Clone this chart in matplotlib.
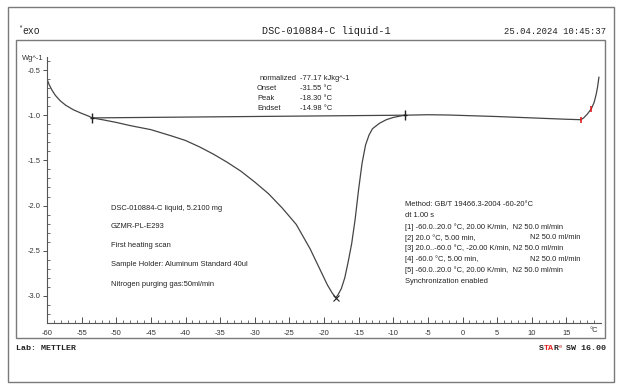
import matplotlib
matplotlib.use("Agg")
import matplotlib.pyplot as plt
from matplotlib.patches import Rectangle

W, H = 628, 391

# ---- data ----
temperature = [-60.0, -59.7, -59.3, -58.8, -58.1, -57.3, -56.2, -55.0, -54.0, -53.5,
               -52.0, -50.0, -48.0, -45.0, -42.0, -40.0, -38.0, -36.0, -34.0, -32.0,
               -30.0, -28.0, -26.0, -24.0, -22.0, -20.5, -19.5, -18.8, -18.3, -18.0,
               -17.5, -17.0, -16.5, -16.0, -15.5, -15.0, -14.5, -14.0, -13.5, -13.0,
               -12.0, -11.0, -10.0, -9.0, -8.3, -5.0, -2.0, 0.0, 5.0, 10.0,
               15.0, 17.1, 17.5, 18.0, 18.6, 19.0, 19.3, 19.5, 19.7]
heat_flow = [-0.60, -0.66, -0.72, -0.78, -0.84, -0.89, -0.94, -0.98, -1.01, -1.03,
             -1.05, -1.08, -1.115, -1.16, -1.23, -1.28, -1.35, -1.43, -1.52, -1.62,
             -1.74, -1.87, -2.03, -2.21, -2.48, -2.72, -2.88, -2.97, -3.02, -2.99,
             -2.92, -2.80, -2.62, -2.42, -2.15, -1.82, -1.53, -1.33, -1.22, -1.15,
             -1.09, -1.05, -1.025, -1.01, -1.00, -0.995, -0.998, -1.003, -1.015, -1.03,
             -1.045, -1.05, -1.03, -0.99, -0.93, -0.86, -0.77, -0.69, -0.58]
baseline_t = [-53.5, -8.3]
baseline_y = [-1.03, -1.00]
limit_t = [-53.5, -8.3]
limit_y = [-1.03, -1.00]
red_t = [17.1, 18.6]
red_y = [-1.05, -0.93]
peak_t = [-18.3]
peak_y = [-3.02]

x_ticks = list(range(-60, 20, 5))
y_ticks = [-0.5, -1.0, -1.5, -2.0, -2.5, -3.0]

result_labels = ["normalized", "Onset", "Peak", "Endset"]
result_values = ["-77.17 kJkg^-1", "-31.55 °C", "-18.30 °C", "-14.98 °C"]
sample_lines = ["DSC-010884-C liquid, 5.2100 mg", "GZMR-PL-E293", "First heating scan",
                "Sample Holder: Aluminum Standard 40ul", "Nitrogen purging gas:50ml/min"]
method_lines = ["Method: GB/T 19466.3-2004 -60-20°C", "dt 1.00 s",
                "[1] -60.0..20.0 °C, 20.00 K/min,  N2 50.0 ml/min",
                "[2] 20.0 °C, 5.00 min,",
                "[3] 20.0..-60.0 °C, -20.00 K/min, N2 50.0 ml/min",
                "[4] -60.0 °C, 5.00 min,",
                "[5] -60.0..20.0 °C, 20.00 K/min,  N2 50.0 ml/min",
                "Synchronization enabled"]

# ---- figure ----
fig = plt.figure(figsize=(W / 100, H / 100), dpi=100)
fig.patch.set_facecolor("white")

def fx(px):
    return px / W

def fy(py):
    return 1 - py / H

frame_col = "#7a7a7a"
fig.patches.append(Rectangle((fx(8), fy(382)), fx(614) - fx(8), fy(7) - fy(382),
                             transform=fig.transFigure, fill=False, ec=frame_col, lw=1.0))
fig.patches.append(Rectangle((fx(16), fy(338)), fx(605) - fx(16), fy(40) - fy(338),
                             transform=fig.transFigure, fill=False, ec=frame_col, lw=1.0))

mono = ["Liberation Mono", "DejaVu Sans Mono"]
fig.text(fx(18), fy(28), "*", fontsize=5, family=mono, ha="left", va="center", color="#222")
fig.text(fx(22), fy(31), "exo", fontsize=7, family=mono, ha="left", va="center", color="#222")
fig.text(fx(326), fy(31), "DSC-010884-C liquid-1", fontsize=7.3, family=mono,
         ha="center", va="center", color="#222")
fig.text(fx(606), fy(31), "25.04.2024 10:45:37", fontsize=6.4, family=mono,
         ha="right", va="center", color="#222")
fig.text(fx(16), fy(349), "Lab: METTLER", fontsize=6.0, family=mono, weight="bold",
         ha="left", va="center", color="#222")

# STARe SW 16.00
fig.text(fx(606), fy(349), "SW 16.00", fontsize=6.0, family=mono, weight="bold",
         ha="right", va="center", color="#222")
fig.text(fx(558.5), fy(346), "e", fontsize=4, family=mono, ha="left", va="center", color="#d03030")
fig.text(fx(558.5), fy(349), "R", fontsize=6.0, family=mono, weight="bold", ha="right", va="center", color="#222")
fig.text(fx(553.5), fy(349), "TA", fontsize=6.0, family=mono, weight="bold", ha="right", va="center", color="#e02020")
fig.text(fx(543.5), fy(349), "S", fontsize=6.0, family=mono, weight="bold", ha="right", va="center", color="#222")

# ---- axes ----
ax_l, ax_r, ax_t, ax_b = 47, 601, 57, 323
ax = fig.add_axes([fx(ax_l), fy(ax_b), fx(ax_r) - fx(ax_l), fy(ax_t) - fy(ax_b)])
ax.set_xlim(-60, 20)
ax.set_ylim(-3.30, -0.356)
for s in ["top", "right"]:
    ax.spines[s].set_visible(False)
for s in ["left", "bottom"]:
    ax.spines[s].set_color("#555")
    ax.spines[s].set_linewidth(0.8)

curve_col = "#454545"
ax.plot(temperature, heat_flow, color=curve_col, lw=0.9, solid_joinstyle="round")
ax.plot(baseline_t, baseline_y, color=curve_col, lw=0.9)
ax.plot(limit_t, limit_y, ls="none", marker="|", ms=7, mew=1.0, color="#222")
ax.plot(limit_t, limit_y, ls="none", marker="_", ms=2.5, mew=1.0, color="#222")
ax.plot(red_t, red_y, ls="none", marker="|", ms=5, mew=1.2, color="#e02020")
ax.plot(peak_t, peak_y, ls="none", marker="x", ms=4, mew=0.8, color="#222")

sans = ["Liberation Sans", "DejaVu Sans"]
fs = 5.4
ax.set_xticks(x_ticks)
ax.set_xticklabels([str(v) for v in x_ticks], family=sans, fontsize=fs)
ax.set_xticks([v for v in range(-60, 20)], minor=True)
ax.tick_params(axis="x", which="major", direction="in", length=4, width=0.6, pad=5, colors="#333")
ax.tick_params(axis="x", which="minor", direction="in", length=2.5, width=0.5, colors="#333")
ax.set_yticks(y_ticks)
ax.set_yticklabels([f"{v:.1f}" for v in y_ticks], family=sans, fontsize=fs)
ax.set_yticks([v / 10 for v in range(-33, -3)], minor=True)
ax.tick_params(axis="y", which="major", direction="out", length=3, width=0.6, pad=1.5, colors="#333")
ax.tick_params(axis="y", which="minor", direction="in", length=2, width=0.5, colors="#333")
ax.set_ylim(-3.30, -0.356)
fig.text(fx(44), fy(59), "Wg^-1", family=sans, fontsize=fs, ha="right", va="center", color="#333")
fig.text(fx(594), fy(330), "°C", family=sans, fontsize=fs, ha="center", va="center", color="#333")

# ---- annotations ----
res_y = [78, 88, 98, 108]
for lab, val, py in zip(result_labels, result_values, res_y):
    ha = "right" if lab == "normalized" else "left"
    xlab = 297 if lab == "normalized" else 257
    fig.text(fx(xlab), fy(py), lab, family=sans, fontsize=fs, ha=ha, va="center", color="#222")
    fig.text(fx(300), fy(py), val, family=sans, fontsize=fs, ha="left", va="center", color="#222")

for i, line in enumerate(sample_lines):
    fig.text(fx(111), fy(208 + i * 19), line, family=sans, fontsize=fs,
             ha="left", va="center", color="#222")

for i, line in enumerate(method_lines):
    py = 205 + i * 10.9
    fig.text(fx(405), fy(py), line, family=sans, fontsize=fs, ha="left", va="center", color="#222")
    if line.startswith("[2]") or line.startswith("[4]"):
        fig.text(fx(530), fy(py), "N2 50.0 ml/min", family=sans, fontsize=fs,
                 ha="left", va="center", color="#222")

fig.savefig("out.png", dpi=100, facecolor="white")
